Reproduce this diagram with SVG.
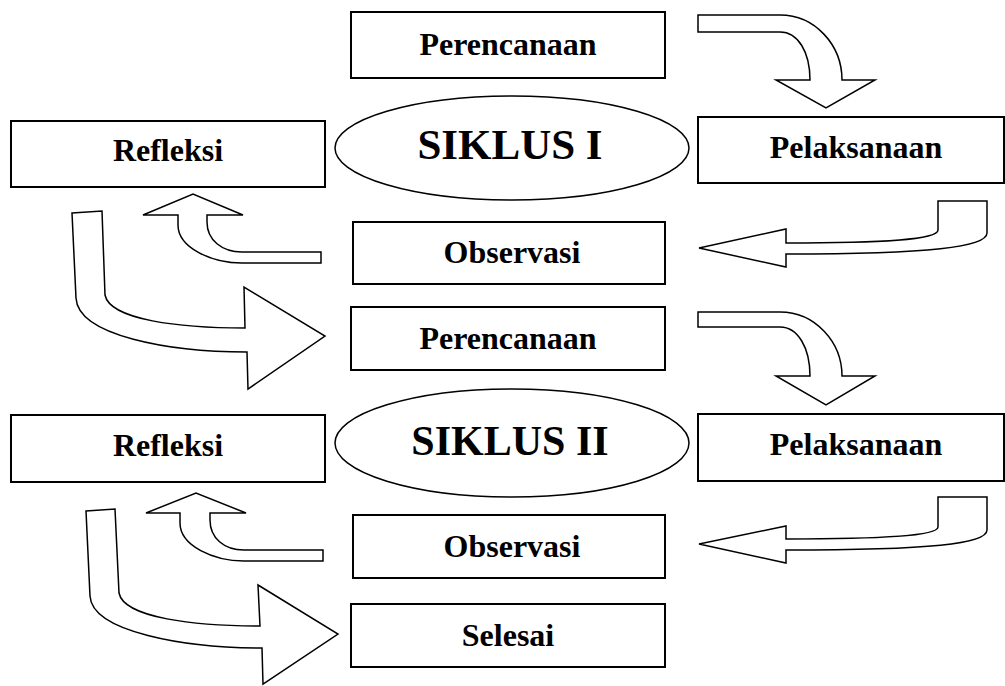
<svg xmlns="http://www.w3.org/2000/svg" width="1005" height="686" viewBox="0 0 1005 686">
<style>
.box{fill:#fff;stroke:#000;stroke-width:2}
.ell{fill:#fff;stroke:#000;stroke-width:1.5}
.arr{fill:#fff;stroke:#000;stroke-width:1.5;stroke-linejoin:miter}
.t{font-family:"Liberation Serif","Times New Roman",serif;font-weight:bold;font-size:32px;text-anchor:middle;fill:#000}
.big{font-size:43px}
</style>
<rect width="1005" height="686" fill="#fff"/>
<g id="connectors">
<path class="arr" d="M698,15 L780,15 C815,15 842,45 842,80 L875,80 L826,108 L776,80 L810,80 C810,52 798,32 780,32 L698,32 Z"/>
<path class="arr" d="M938,201 L987,201 L987,233 C987,247 930,254 786,254 L786,267 L699,248 L786,229 L786,243 C880,243 938,240 938,230 Z"/>
<path class="arr" d="M321,252 L242,252 C222,252 207,240 207,222 L207,215 L243,215 L193,194 L143,215 L178,215 L178,225 C178,248 212,263 242,263 L321,263 Z"/>
<path class="arr" d="M72,213 L102,211 L105,295 C110,320 180,328 245,328 L244,287 L325,336 L248,389 L247,352 C170,352 78,336 76,298 Z"/>
<path class="arr" d="M698,312 L780,312 C815,312 842,342 842,376 L875,376 L826,405 L776,376 L810,376 C810,348 798,327 780,327 L698,327 Z"/>
<path class="arr" d="M938,497 L987,497 L987,530 C987,544 930,550 786,550 L786,563 L699,544 L786,526 L786,539 C880,539 938,536 938,527 Z"/>
<path class="arr" d="M323,550 L244,550 C224,550 210,538 210,520 L210,513 L246,513 L196,493 L146,513 L180,513 L180,523 C180,546 214,561 244,561 L323,561 Z"/>
<path class="arr" d="M86,511 L115,509 L119,593 C124,618 195,626 260,626 L258,585 L338,634 L263,684 L262,648 C185,648 92,632 90,596 Z"/>
</g>
<g id="perencanaan1"><rect class="box" x="351" y="12" width="314" height="66"/><text class="t" x="508" y="55">Perencanaan</text></g>
<g id="siklus1"><ellipse class="ell" cx="512" cy="148" rx="177" ry="52"/><text class="t big" x="510" y="159">SIKLUS I</text></g>
<g id="refleksi1"><rect class="box" x="11" y="121" width="314" height="66"/><text class="t" x="168" y="161">Refleksi</text></g>
<g id="pelaksanaan1"><rect class="box" x="698" y="117" width="306" height="66"/><text class="t" x="856" y="158">Pelaksanaan</text></g>
<g id="observasi1"><rect class="box" x="353" y="222" width="312" height="62"/><text class="t" x="512" y="263">Observasi</text></g>
<g id="perencanaan2"><rect class="box" x="351" y="307" width="314" height="63"/><text class="t" x="508" y="349">Perencanaan</text></g>
<g id="siklus2"><ellipse class="ell" cx="512" cy="443" rx="177" ry="54"/><text class="t big" x="510" y="455" style="font-size:42px">SIKLUS II</text></g>
<g id="refleksi2"><rect class="box" x="11" y="415" width="314" height="67"/><text class="t" x="168" y="456">Refleksi</text></g>
<g id="pelaksanaan2"><rect class="box" x="698" y="414" width="306" height="67"/><text class="t" x="856" y="455">Pelaksanaan</text></g>
<g id="observasi2"><rect class="box" x="353" y="515" width="312" height="63"/><text class="t" x="512" y="557">Observasi</text></g>
<g id="selesai"><rect class="box" x="351" y="604" width="314" height="63"/><text class="t" x="508" y="646">Selesai</text></g>
</svg>
